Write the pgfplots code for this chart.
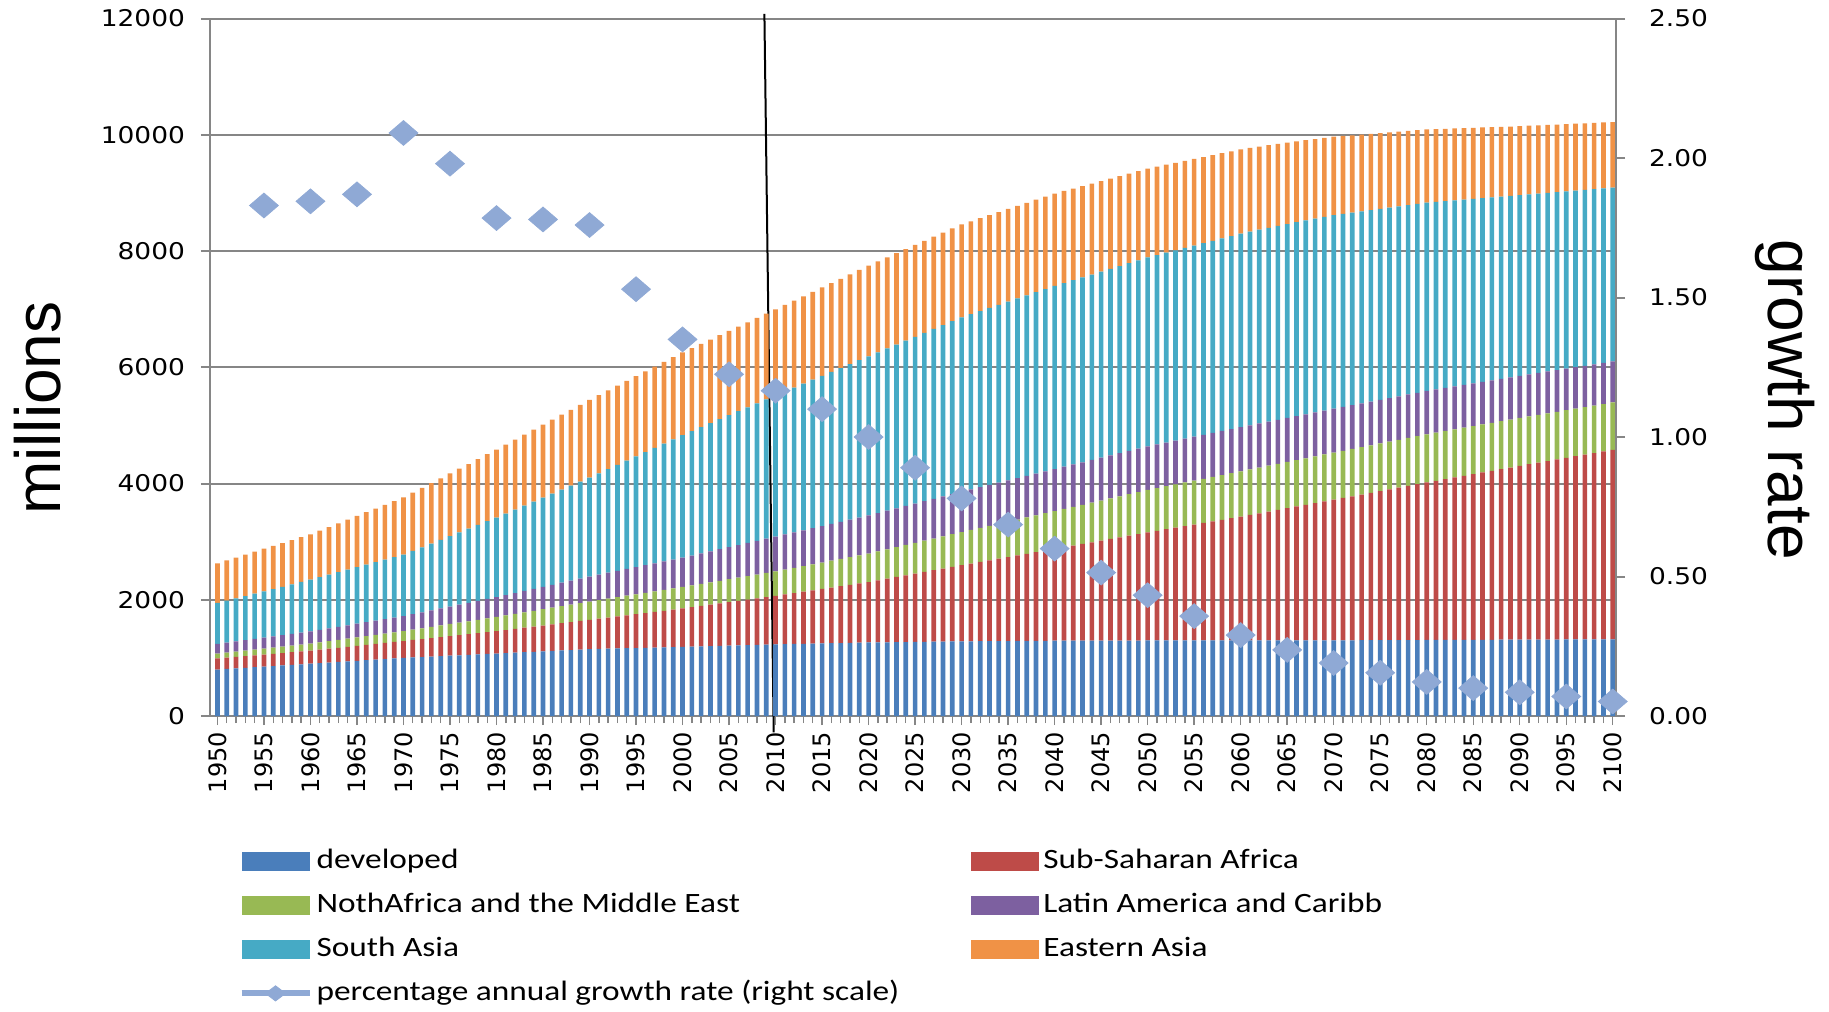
\documentclass[border=0pt]{standalone}
\usepackage{pgfplots}
\pgfplotsset{compat=1.18}
\usepackage{pgfplotstable}
\usepackage{fontspec}
\setmainfont{Liberation Sans}
\newfontfamily\ytickfont[FakeStretch=1.15]{DejaVu Sans}
\newfontfamily\xtickfont{DejaVu Sans}
\newfontfamily\legfont[FakeStretch=1.19]{Carlito}
\definecolor{cdev}{RGB}{74,126,187}
\definecolor{cssa}{RGB}{190,75,72}
\definecolor{cname}{RGB}{152,185,84}
\definecolor{clat}{RGB}{125,96,160}
\definecolor{csa}{RGB}{70,170,197}
\definecolor{cea}{RGB}{240,146,70}
\definecolor{cgrow}{RGB}{143,169,213}
\definecolor{cgrid}{RGB}{134,134,134}

\pgfplotstableread{
year dev ssa name lat sa ea
1950 800 190 85 165 705 683
1951 810 194 88 170 724 693
1952 820 197 92 174 742 702
1953 830 200 96 178 760 712
1954 840 204 99 183 779 722
1955 850 208 102 188 798 732
1956 860 211 106 192 816 741
1957 870 214 110 196 834 751
1958 880 218 113 201 853 761
1959 890 222 116 206 872 770
1960 900 225 120 210 890 780
1961 910 232 125 215 906 800
1962 920 238 130 220 923 821
1963 930 244 135 225 940 842
1964 940 251 140 230 956 862
1965 950 258 145 235 972 882
1966 960 264 150 240 989 903
1967 970 270 155 245 1006 924
1968 980 277 160 250 1022 944
1969 990 284 165 255 1038 964
1970 1000 290 170 260 1055 985
1971 1008 300 178 268 1086 1004
1972 1015 309 185 276 1118 1022
1973 1022 318 192 284 1150 1040
1974 1030 328 200 292 1181 1059
1975 1038 338 208 300 1212 1078
1976 1045 347 215 308 1244 1096
1977 1052 356 222 316 1276 1114
1978 1060 366 230 324 1307 1133
1979 1068 376 238 332 1338 1152
1980 1075 385 245 340 1370 1170
1981 1082 397 252 349 1403 1187
1982 1090 409 259 358 1436 1204
1983 1098 421 266 367 1469 1221
1984 1105 433 273 376 1502 1238
1985 1112 445 280 385 1535 1255
1986 1120 457 287 394 1568 1272
1987 1128 469 294 403 1601 1289
1988 1135 481 301 412 1634 1306
1989 1142 493 308 421 1667 1323
1990 1150 505 315 430 1700 1340
1991 1154 520 320 438 1741 1348
1992 1158 536 326 445 1782 1356
1993 1162 552 332 452 1823 1364
1994 1166 567 337 460 1864 1372
1995 1170 582 342 468 1905 1380
1996 1174 598 348 475 1946 1388
1997 1178 614 354 482 1987 1396
1998 1182 629 359 490 2028 1404
1999 1186 644 364 498 2069 1412
2000 1190 660 370 505 2110 1420
2001 1194 678 375 514 2142 1426
2002 1198 695 380 524 2174 1432
2003 1203 712 385 534 2206 1438
2004 1207 730 390 543 2238 1444
2005 1211 748 395 552 2270 1450
2006 1215 765 400 562 2302 1456
2007 1219 782 405 572 2334 1462
2008 1224 800 410 581 2366 1468
2009 1228 818 415 590 2398 1474
2010 1232 835 420 600 2430 1480
2011 1235 856 427 606 2461 1488
2012 1239 876 434 611 2492 1496
2013 1242 896 441 616 2523 1504
2014 1245 917 448 622 2554 1512
2015 1248 938 455 628 2585 1520
2016 1252 958 462 633 2616 1528
2017 1255 978 469 638 2647 1536
2018 1258 999 476 644 2678 1544
2019 1262 1020 483 650 2709 1552
2020 1265 1040 490 655 2740 1560
2021 1267 1067 498 659 2766 1564
2022 1269 1094 506 663 2792 1568
2023 1271 1121 514 667 2818 1572
2024 1273 1148 522 671 2844 1576
2025 1275 1175 530 675 2870 1580
2026 1277 1202 538 679 2896 1584
2027 1279 1229 546 683 2922 1588
2028 1281 1256 554 687 2948 1592
2029 1283 1283 562 691 2974 1596
2030 1285 1310 570 695 3000 1600
2031 1286 1337 578 698 3015 1599
2032 1287 1364 586 701 3030 1598
2033 1288 1391 594 704 3045 1597
2034 1289 1418 602 707 3060 1596
2035 1290 1445 610 710 3075 1595
2036 1291 1472 618 713 3090 1594
2037 1292 1499 626 716 3105 1593
2038 1293 1526 634 719 3120 1592
2039 1294 1553 642 722 3135 1591
2040 1295 1580 650 725 3150 1590
2041 1296 1608 658 728 3160 1584
2042 1296 1636 666 730 3170 1578
2043 1296 1664 674 732 3180 1572
2044 1297 1692 682 735 3190 1566
2045 1297 1720 690 738 3200 1560
2046 1298 1748 698 740 3210 1554
2047 1298 1776 706 742 3220 1548
2048 1299 1804 714 745 3230 1542
2049 1299 1832 722 748 3240 1536
2050 1300 1860 730 750 3250 1530
2051 1300 1887 735 751 3258 1522
2052 1300 1914 740 752 3266 1514
2053 1300 1941 745 753 3274 1506
2054 1300 1968 750 754 3282 1498
2055 1300 1995 755 755 3290 1490
2056 1300 2022 760 756 3298 1482
2057 1300 2049 765 757 3306 1474
2058 1300 2076 770 758 3314 1466
2059 1300 2103 775 759 3322 1458
2060 1300 2130 780 760 3330 1450
2061 1300 2159 783 760 3332 1440
2062 1300 2188 786 759 3334 1430
2063 1301 2217 789 759 3335 1420
2064 1301 2246 792 758 3336 1410
2065 1301 2275 795 758 3336 1400
2066 1301 2304 798 757 3336 1390
2067 1301 2333 801 757 3335 1380
2068 1302 2362 804 756 3334 1370
2069 1302 2391 807 756 3332 1360
2070 1302 2420 810 755 3330 1350
2071 1303 2449 812 754 3321 1341
2072 1303 2478 814 753 3312 1332
2073 1304 2507 816 752 3303 1323
2074 1304 2536 818 751 3294 1314
2075 1305 2565 820 750 3285 1305
2076 1306 2594 822 749 3276 1296
2077 1306 2623 824 748 3267 1287
2078 1307 2652 826 747 3258 1278
2079 1307 2681 828 746 3249 1269
2080 1308 2710 830 745 3240 1260
2081 1309 2738 830 743 3227 1252
2082 1309 2766 829 741 3214 1245
2083 1310 2794 829 739 3201 1238
2084 1310 2822 828 737 3188 1230
2085 1311 2850 828 735 3175 1222
2086 1312 2878 827 733 3162 1215
2087 1312 2906 827 731 3149 1208
2088 1313 2934 826 729 3136 1200
2089 1313 2962 826 727 3123 1192
2090 1314 2990 825 725 3110 1185
2091 1315 3017 824 723 3098 1180
2092 1315 3044 823 721 3086 1174
2093 1316 3071 822 719 3074 1168
2094 1316 3098 821 717 3062 1163
2095 1317 3125 820 715 3050 1158
2096 1318 3152 819 713 3038 1152
2097 1318 3179 818 711 3026 1146
2098 1319 3206 817 709 3014 1141
2099 1319 3233 816 707 3002 1136
2100 1320 3260 815 705 2990 1130
}\pop

\pgfplotstableread{
year g
1955 1.83
1960 1.845
1965 1.87
1970 2.09
1975 1.98
1980 1.785
1985 1.78
1990 1.76
1995 1.53
2000 1.35
2005 1.225
2010 1.166
2015 1.10
2020 1.00
2025 0.89
2030 0.78
2035 0.686
2040 0.60
2045 0.514
2050 0.433
2055 0.358
2060 0.29
2065 0.237
2070 0.19
2075 0.155
2080 0.122
2085 0.10
2090 0.085
2095 0.07
2100 0.052
}\growth

\pgfplotsset{
  mybar/.style={fill=#1, draw=none,
    legend image code/.code={\fill[#1] (0pt,-4.65pt) rectangle (34pt,4.65pt);}},
}

\begin{document}
\begin{tikzpicture}
\useasboundingbox (-105pt,-147.5pt) rectangle (809.5pt,358pt);
\begin{axis}[
  at={(0pt,0pt)}, anchor=south west,
  width=703pt, height=348.7pt, scale only axis,
  clip=false,
  xmin=1949.2, xmax=2100.35, ymin=0, ymax=12000,
  ybar stacked, bar width=0.5,
  axis x line*=bottom, axis y line*=left,
  axis line style={draw=cgrid, line width=1pt, -},
  ytick={0,2000,4000,6000,8000,10000,12000},
  scaled y ticks=false,
  ymajorgrids, grid style={draw=cgrid, line width=1pt},
  xtick={1950,1955,...,2100},
  minor xtick={1950,1951,...,2100},
  tick align=outside,
  major tick length=4.5pt, minor tick length=3.5pt,
  x tick style={draw=cgrid, line width=0.7pt},
  y tick style={draw=cgrid, line width=1pt},
  /pgf/number format/assume math mode=true,
  /pgf/number format/1000 sep={},
  xticklabel style={rotate=90, anchor=east, font=\xtickfont\fontsize{12}{14}\selectfont},
  yticklabel style={font=\ytickfont\fontsize{11.5}{13}\selectfont, xshift=-4.5pt},
  ylabel={millions},
  every axis y label/.style={at={(axis description cs:-0.1223,0.4415)}, rotate=90, anchor=center, font=\fontsize{32}{36}\selectfont},
  legend columns=2,
  legend cell align=left,
  legend style={at={(axis description cs:0.02,-0.1835)}, anchor=north west, draw=none, fill=none,
    font=\legfont\fontsize{14}{16}\selectfont, row sep=5pt, inner sep=0pt,
    nodes={inner sep=2pt, text height=10pt, text depth=3pt},
    /tikz/every even column/.append style={column sep=34pt}},
]
\addplot[mybar=cdev] table[x=year, y=dev]{\pop};
\addlegendentry{developed}
\addplot[mybar=cssa] table[x=year, y=ssa]{\pop};
\addlegendentry{Sub-Saharan Africa}
\addplot[mybar=cname] table[x=year, y=name]{\pop};
\addlegendentry{NothAfrica and the Middle East}
\addplot[mybar=clat] table[x=year, y=lat]{\pop};
\addlegendentry{Latin America and Caribb}
\addplot[mybar=csa] table[x=year, y=sa]{\pop};
\addlegendentry{South Asia}
\addplot[mybar=cea] table[x=year, y=ea]{\pop};
\addlegendentry{Eastern Asia}
\addlegendimage{legend image code/.code={
  \draw[cgrow, line width=3pt] (0pt,0pt) -- (34pt,0pt);
  \fill[cgrow] (17pt,3.8pt) -- (22pt,0pt) -- (17pt,-3.8pt) -- (12pt,0pt) -- cycle;}}
\addlegendentry{percentage annual growth rate (right scale)}
\draw[black, line width=1pt] (axis cs:2008.8,12080) -- (axis cs:2009.8,-280);
\end{axis}
\begin{axis}[
  at={(0pt,0pt)}, anchor=south west,
  width=703pt, height=348.7pt, scale only axis,
  clip=false,
  xmin=1949.2, xmax=2100.35, ymin=0, ymax=2.5,
  axis x line=none, axis y line*=right,
  axis line style={draw=cgrid, line width=1pt, -},
  ytick={0,0.5,1,1.5,2,2.5},
  scaled y ticks=false,
  tick align=outside, major tick length=4.5pt,
  y tick style={draw=cgrid, line width=1pt},
  /pgf/number format/assume math mode=true,
  yticklabel style={font=\ytickfont\fontsize{11.5}{13}\selectfont, xshift=8.5pt,
    /pgf/number format/fixed, /pgf/number format/fixed zerofill, /pgf/number format/precision=2},
  ylabel={growth rate},
  every axis y label/.style={at={(axis description cs:1.1202,0.4532)}, rotate=-90, anchor=center, font=\fontsize{32}{36}\selectfont},
]
\addplot[only marks, mark=diamond*, mark size=6.2pt, mark options={xscale=1.55, fill=cgrow, draw=cgrow}] table[x=year, y=g]{\growth};
\end{axis}
\end{tikzpicture}
\end{document}
